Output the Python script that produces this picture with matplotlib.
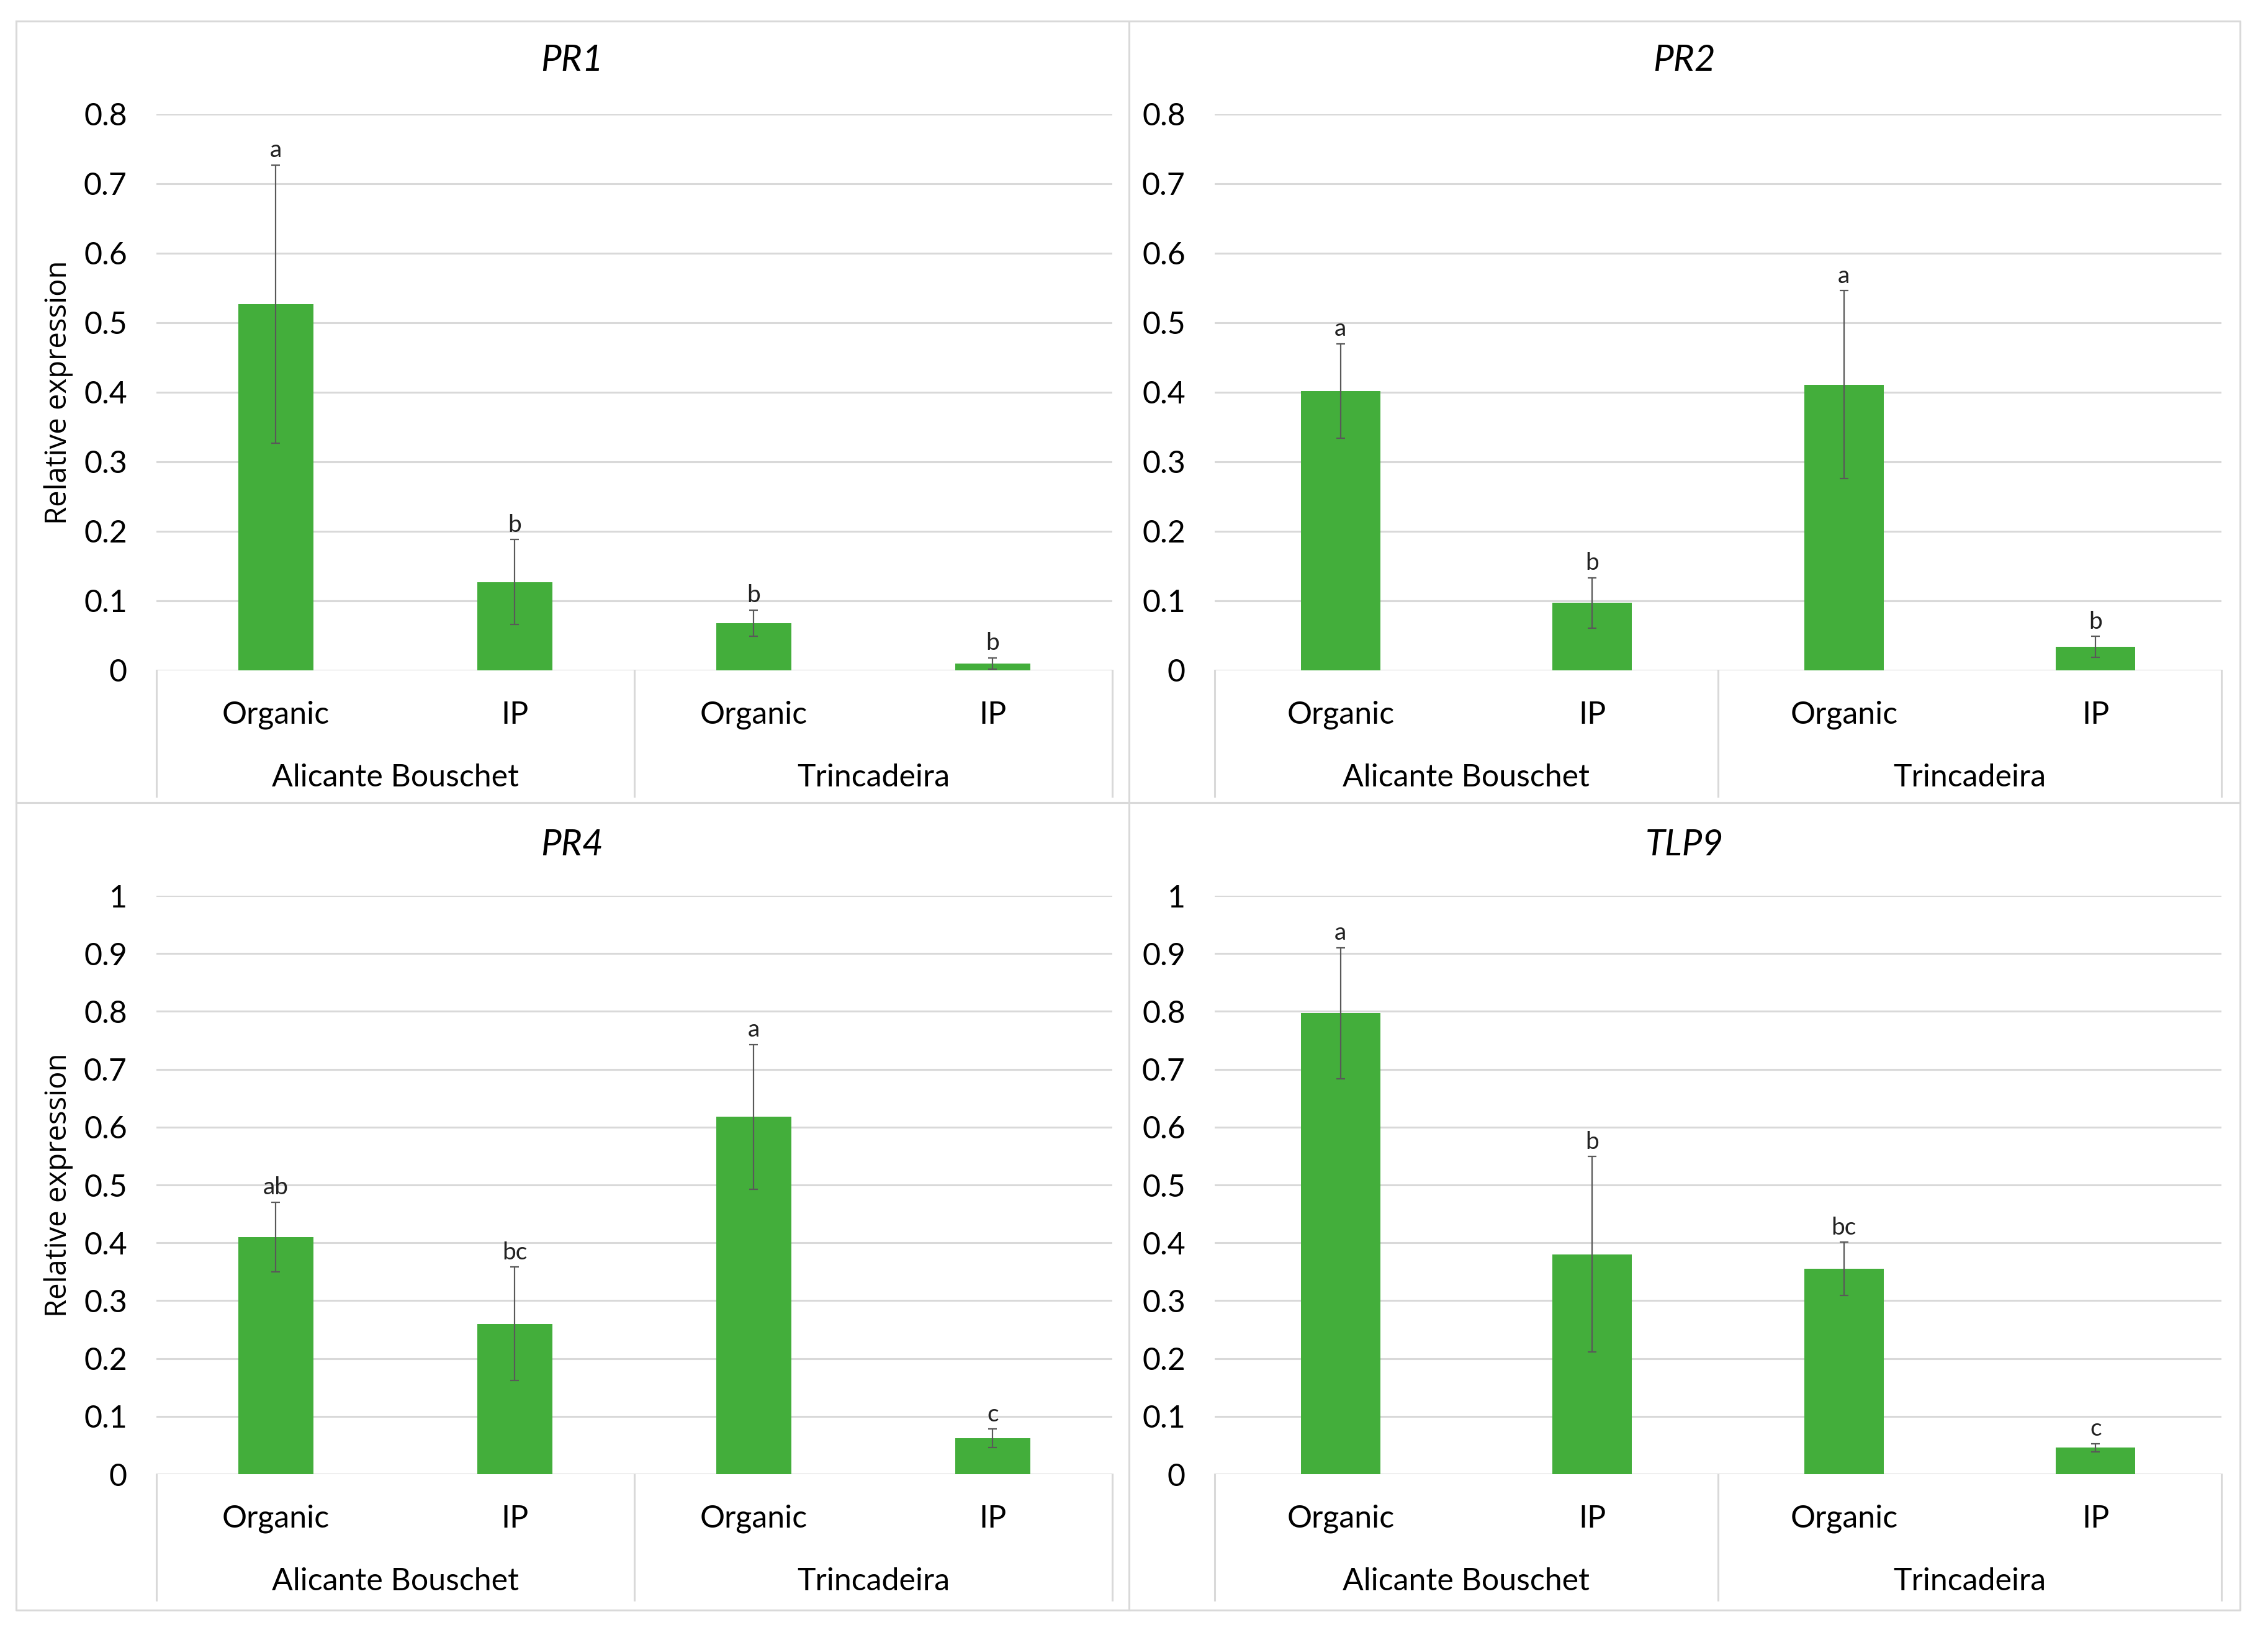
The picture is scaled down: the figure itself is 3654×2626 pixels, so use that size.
import matplotlib
matplotlib.use("Agg")
import matplotlib.pyplot as plt
from matplotlib.lines import Line2D
import matplotlib.transforms as mtransforms

W, H = 3655, 2626
DPI = 100

# data
genes = ["PR1", "PR2", "PR4", "TLP9"]
treatments = ["Organic", "IP", "Organic", "IP"]
cultivars = ["Alicante Bouschet", "Trincadeira"]

pr1_mean = [0.527, 0.127, 0.068, 0.010]
pr1_err = [0.200, 0.061, 0.019, 0.008]
pr1_letters = ["a", "b", "b", "b"]

pr2_mean = [0.402, 0.097, 0.411, 0.034]
pr2_err = [0.068, 0.036, 0.135, 0.015]
pr2_letters = ["a", "b", "a", "b"]

pr4_mean = [0.410, 0.260, 0.618, 0.062]
pr4_err = [0.060, 0.098, 0.125, 0.016]
pr4_letters = ["ab", "bc", "a", "c"]

tlp9_mean = [0.797, 0.380, 0.355, 0.046]
tlp9_err = [0.113, 0.169, 0.046, 0.007]
tlp9_letters = ["a", "b", "bc", "c"]

top_ticks = [0, 0.1, 0.2, 0.3, 0.4, 0.5, 0.6, 0.7, 0.8]
bottom_ticks = [0, 0.1, 0.2, 0.3, 0.4, 0.5, 0.6, 0.7, 0.8, 0.9, 1]

GREEN = "#43AE3B"
GRID = "#d9d9d9"
ERR = "#595959"
FONT = "Lato"

plt.rcParams["font.family"] = [FONT, "DejaVu Sans"]

fig = plt.figure(figsize=(W / DPI, H / DPI), dpi=DPI)


def px_axes(x0, x1, ytop, ybot):
    return fig.add_axes([x0 / W, (H - ybot) / H, (x1 - x0) / W, (ybot - ytop) / H])


def fig_line(xs, ys):
    fig.add_artist(Line2D([x / W for x in xs], [(H - y) / H for y in ys],
                          color=GRID, lw=2.2, transform=fig.transFigure))


# panel frames
fig_line([26, 3609, 3609, 26, 26], [34, 34, 2594, 2594, 34])
fig_line([1819, 1819], [34, 2594])
fig_line([26, 3609], [1293, 1293])

panels = [
    ("PR1", pr1_mean, pr1_err, pr1_letters, top_ticks, (252, 1792, 184, 1080), 922, 98, True),
    ("PR2", pr2_mean, pr2_err, pr2_letters, top_ticks, (1957, 3579, 184, 1080), 2714, 98, False),
    ("PR4", pr4_mean, pr4_err, pr4_letters, bottom_ticks, (252, 1792, 1443, 2375), 922, 1361, True),
    ("TLP9", tlp9_mean, tlp9_err, tlp9_letters, bottom_ticks, (1957, 3579, 1443, 2375), 2714, 1361, False),
]

x = list(range(len(treatments)))

for name, mean, err, letters, ticks, box, tx, ty, ylab in panels:
    x0, x1, ytop, ybot = box
    ax = px_axes(x0, x1, ytop, ybot)
    hpx = ybot - ytop

    ax.bar(x, mean, width=0.315, color=GREEN, zorder=2)
    ax.errorbar(x, mean, yerr=err, fmt="none", ecolor=ERR, elinewidth=1.6,
                capsize=5, capthick=1.6, zorder=3)
    for i in x:
        ax.annotate(letters[i], xy=(i, mean[i] + err[i]), xytext=(0, 4),
                    textcoords="offset points", ha="center", va="bottom",
                    fontsize=28, color="#222222")

    ax.set_xlim(-0.5, 3.5)
    ax.set_ylim(0, ticks[-1])
    ax.set_yticks(ticks)
    ax.set_yticklabels([("%g" % t) for t in ticks])
    ax.tick_params(axis="y", length=0, pad=34, labelsize=36)
    ax.set_xticks([])
    for s in ax.spines.values():
        s.set_visible(False)
    ax.grid(axis="y", color=GRID, lw=2.2, zorder=0)
    ax.set_axisbelow(True)
    ax.axhline(0, color=GRID, lw=2.2, zorder=1)

    # multi-level category axis
    trans = mtransforms.blended_transform_factory(ax.transData, ax.transAxes)
    for xv in [-0.5, 1.5, 3.5]:
        ax.plot([xv, xv], [0, -203 / hpx], color=GRID, lw=2.2, transform=trans,
                clip_on=False)
    for i in x:
        ax.text(i, -72 / hpx, treatments[i], transform=trans, ha="center",
                va="center", fontsize=36)
    for j, cv in enumerate(cultivars):
        ax.text(0.5 + 2 * j, -173 / hpx, cv, transform=trans, ha="center",
                va="center", fontsize=36)

    if ylab:
        fig.text(94 / W, 1 - (ytop + ybot) / 2 / H, "Relative expression",
                 rotation=90, ha="center", va="center", fontsize=34,
                 family=["Open Sans", "DejaVu Sans"])

    fig.text(tx / W, 1 - ty / H, name, ha="center", va="center",
             fontsize=42, style="italic")

fig.savefig("out.png", dpi=DPI, facecolor="white")
